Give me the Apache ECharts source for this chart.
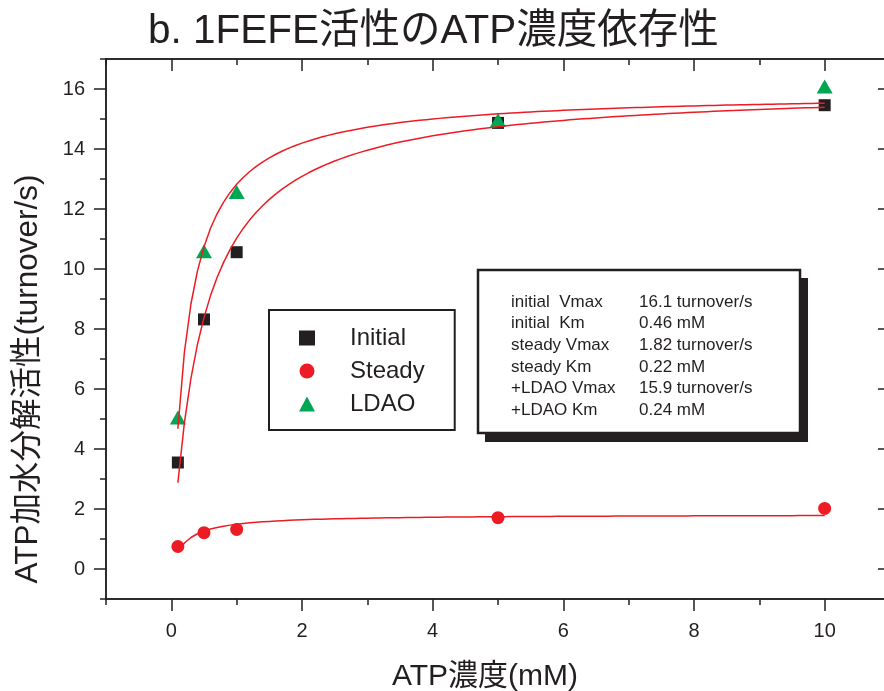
<!DOCTYPE html>
<html>
<head>
<meta charset="utf-8">
<script src="https://cdn.jsdelivr.net/npm/echarts@6/dist/echarts.min.js"></script>
<style>
  html, body { margin: 0; padding: 0; background: #fff; }
  #chart { width: 884px; height: 691px; }
</style>
</head>
<body>
<div id="chart"></div>
<script>
// Measured ATP hydrolysis rates (turnover/s) at each ATP concentration (mM)
const atpConc = [0.1, 0.5, 1, 5, 10];
const initialRate = [3.55, 8.32, 10.56, 14.87, 15.46];
const steadyRate = [0.75, 1.21, 1.32, 1.71, 2.02];
const ldaoRate = [5.05, 10.59, 12.57, 14.97, 16.08];

// Michaelis-Menten fit parameters
const fitLabels = ['initial', 'steady', '+LDAO'];
const fitVmax = [16.1, 1.82, 15.9];
const fitKm = [0.46, 0.22, 0.24];

// Axis ticks
const xMajorTicks = [0, 2, 4, 6, 8, 10];
const yMajorTicks = [0, 2, 4, 6, 8, 10, 12, 14, 16];

const ink = '#231f20';
const red = '#ed1c24';
const green = '#00a651';
const font = '"Liberation Sans", Arial, "Noto Sans CJK JP", sans-serif';

function pairs(ys) { return atpConc.map((x, i) => [x, ys[i]]); }

function fitCurve(k) {
  const pts = [];
  for (let i = 1; i <= 100; i++) {
    const x = i / 10;
    pts.push([x, fitVmax[k] * x / (fitKm[k] + x)]);
  }
  return pts;
}

function axis(kind, position, major, inside) {
  const isX = kind === 'x';
  const a = {
    type: 'value',
    position: position,
    min: -1,
    max: isX ? 11 : 17,
    interval: 1,
    axisLine: { show: true, onZero: false, lineStyle: { color: ink, width: 1.5 } },
    axisTick: { show: true, inside: inside, length: major ? 12 : 6, lineStyle: { color: ink, width: 1.5 } },
    axisLabel: { show: false },
    splitLine: { show: false }
  };
  if (major) a.axisTick.customValues = isX ? xMajorTicks : yMajorTicks;
  const labelled = major && (position === 'bottom' || position === 'left');
  if (labelled) {
    a.axisLabel = {
      show: true,
      customValues: isX ? xMajorTicks : yMajorTicks,
      formatter: v => String(v),
      color: ink,
      fontSize: 20,
      fontFamily: font,
      margin: isX ? 22 : 21
    };
  }
  return a;
}

const paramLines = [];
for (let k = 0; k < fitLabels.length; k++) {
  const sep = k === 0 ? '  ' : ' ';
  paramLines.push([fitLabels[k] + sep + 'Vmax', fitVmax[k] + ' turnover/s']);
  paramLines.push([fitLabels[k] + sep + 'Km', fitKm[k] + ' mM']);
}

const paramTexts = [];
paramLines.forEach((row, i) => {
  const y = 302 + i * 21.7;
  paramTexts.push({
    type: 'text', x: 511, y: y,
    style: { text: row[0], fill: ink, font: '17px ' + font, verticalAlign: 'middle' }
  });
  paramTexts.push({
    type: 'text', x: 639, y: y,
    style: { text: row[1], fill: ink, font: '17px ' + font, verticalAlign: 'middle' }
  });
});

const chart = echarts.init(document.getElementById('chart'), null, { renderer: 'canvas' });

chart.setOption({
  animation: false,
  backgroundColor: '#ffffff',
  title: {
    text: 'b. 1FEFE活性のATP濃度依存性',
    left: 143,
    top: 7,
    textStyle: { color: ink, fontSize: 40.5, fontWeight: 'normal', fontFamily: font }
  },
  grid: { left: 106, top: 59, width: 784, height: 540, containLabel: false, outerBoundsMode: 'none' },
  xAxis: [
    axis('x', 'bottom', false, false),
    axis('x', 'bottom', true, false),
    axis('x', 'top', false, true),
    axis('x', 'top', true, true)
  ],
  yAxis: [
    axis('y', 'left', false, false),
    axis('y', 'left', true, false),
    axis('y', 'right', false, true),
    axis('y', 'right', true, true)
  ],
  legend: {
    data: ['Initial', 'Steady', 'LDAO'],
    orient: 'vertical',
    left: 269,
    top: 310,
    padding: [16, 30, 14, 30],
    itemGap: 9,
    itemWidth: 16,
    itemHeight: 15,
    borderColor: ink,
    borderWidth: 2,
    backgroundColor: '#ffffff',
    selectedMode: false,
    textStyle: { color: ink, fontSize: 24, fontFamily: font, lineHeight: 24, padding: [0, 0, 0, 30] }
  },
  series: [
    {
      name: 'Initial', type: 'scatter', symbol: 'rect', symbolSize: 12,
      itemStyle: { color: ink, opacity: 1 }, data: pairs(initialRate), z: 2
    },
    {
      name: 'Steady', type: 'scatter', symbol: 'circle', symbolSize: 13,
      itemStyle: { color: red, opacity: 1 }, data: pairs(steadyRate), z: 2
    },
    {
      name: 'LDAO', type: 'scatter', symbol: 'triangle', symbolSize: [16, 14],
      itemStyle: { color: green, opacity: 1 }, data: pairs(ldaoRate), z: 2
    },
    {
      name: 'initial fit', type: 'line', showSymbol: false, smooth: false,
      lineStyle: { color: red, width: 1.5 }, data: fitCurve(0), z: 3
    },
    {
      name: 'steady fit', type: 'line', showSymbol: false, smooth: false,
      lineStyle: { color: red, width: 1.5 }, data: fitCurve(1), z: 3
    },
    {
      name: 'LDAO fit', type: 'line', showSymbol: false, smooth: false,
      lineStyle: { color: red, width: 1.5 }, data: fitCurve(2), z: 3
    }
  ],
  graphic: [
    {
      type: 'text', x: 28, y: 379, rotation: Math.PI / 2,
      style: { text: 'ATP加水分解活性(turnover/s)', fill: ink, font: '31.5px ' + font, align: 'center', verticalAlign: 'middle' }
    },
    {
      type: 'text', x: 485, y: 677,
      style: { text: 'ATP濃度(mM)', fill: ink, font: '30px ' + font, align: 'center', verticalAlign: 'middle' }
    },
    {
      type: 'group', z: 10,
      children: [
        { type: 'rect', shape: { x: 485, y: 278, width: 323, height: 164 }, style: { fill: ink } },
        { type: 'rect', shape: { x: 478, y: 270, width: 322, height: 163 }, style: { fill: '#ffffff', stroke: ink, lineWidth: 2.5 } }
      ].concat(paramTexts)
    }
  ]
});
</script>
</body>
</html>
